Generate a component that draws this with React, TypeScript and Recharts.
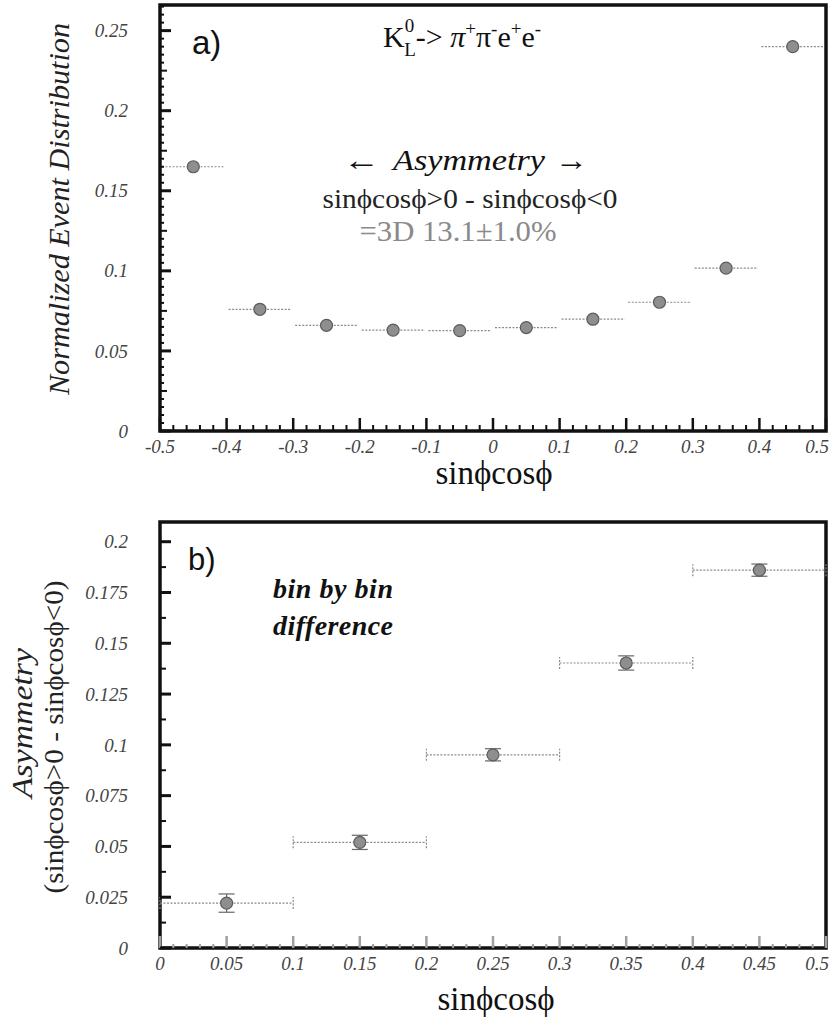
import React from 'react';
import { ScatterChart, Scatter, XAxis, YAxis, ErrorBar, ReferenceArea } from 'recharts';

// panel a) normalized event distribution in bins of sinϕcosϕ
const binsA = [-0.45, -0.35, -0.25, -0.15, -0.05, 0.05, 0.15, 0.25, 0.35, 0.45];
const distA = [0.165, 0.076, 0.066, 0.063, 0.0627, 0.0646, 0.0698, 0.0804, 0.1017, 0.24];
const halfBinA = 0.047;

// panel b) bin by bin asymmetry
const binsB = [0.05, 0.15, 0.25, 0.35, 0.45];
const asymB = [0.0221, 0.052, 0.0951, 0.1403, 0.186];
const asymErrB = [0.0045, 0.0035, 0.003, 0.0035, 0.003];
const halfBinB = 0.05;

const xMajorA = [-0.5, -0.4, -0.3, -0.2, -0.1, 0, 0.1, 0.2, 0.3, 0.4, 0.5];
const yMajorA = [0, 0.05, 0.1, 0.15, 0.2, 0.25];
const xMajorB = [0, 0.05, 0.1, 0.15, 0.2, 0.25, 0.3, 0.35, 0.4, 0.45, 0.5];
const yMajorB = [0, 0.025, 0.05, 0.075, 0.1, 0.125, 0.15, 0.175, 0.2];

const yMaxA = 0.266;
const yMaxB = 0.2097;

const SERIF = 'Liberation Serif';
const SANS = 'Liberation Sans';

// major ticks plus evenly spaced minor ticks between them
function withMinors(majors: number[], parts: number, top: number) {
  const out: number[] = [];
  const step = (majors[1] - majors[0]) / parts;
  for (let i = 0; i < majors.length; i++) {
    for (let k = 0; k < parts; k++) {
      const v = majors[i] + k * step;
      if (v > top + 1e-9) break;
      out.push(Number(v.toFixed(5)));
    }
  }
  return out;
}

const isMajor = (majors: number[], v: number) => majors.some((m) => Math.abs(m - v) < 1e-7);
const fmt = (v: number) => (Math.abs(v) < 1e-9 ? '0' : String(Number(v.toFixed(4))));

function BottomTick(props: any) {
  const { x, y, payload, majors, margin, major, minor, color } = props;
  const v = payload.value;
  const big = isMajor(majors, v);
  const last = Math.abs(v - majors[majors.length - 1]) < 1e-7;
  const axisY = y - margin;
  return (
    <g>
      <line x1={x} x2={x} y1={axisY} y2={axisY - (big ? major : minor)} stroke={color} strokeWidth={big ? 2.5 : 2} />
      {big && (
        <text
          x={last ? x + 3 : x}
          y={y}
          dy="0.72em"
          textAnchor={last ? 'end' : 'middle'}
          fontFamily={SERIF}
          fontStyle="italic"
          fontSize={19}
          fill="#444"
        >
          {fmt(v)}
        </text>
      )}
    </g>
  );
}

function LeftTick(props: any) {
  const { x, y, payload, majors, mids, margin, major, mid, minor } = props;
  const v = payload.value;
  const big = isMajor(majors, v);
  const half = mids && isMajor(mids, v);
  const axisX = x + margin;
  const len = big ? major : half ? mid : minor;
  return (
    <g>
      <line x1={axisX} x2={axisX + len} y1={y} y2={y} stroke="#111" strokeWidth={big ? 3 : 2} />
      {big && (
        <text x={x} y={y} dy="0.35em" textAnchor="end" fontFamily={SERIF} fontStyle="italic" fontSize={19} fill="#444">
          {fmt(v)}
        </text>
      )}
    </g>
  );
}

const Marker = (p: any) => <circle cx={p.cx} cy={p.cy} r={6} fill="#8e8e8e" stroke="#5c5c5c" strokeWidth={1.2} />;

export default function App() {
  const dataA = binsA.map((x, i) => ({ x, y: distA[i], xerr: halfBinA }));
  const dataB = binsB.map((x, i) => ({ x, y: asymB[i], xerr: halfBinB, yerr: asymErrB[i] }));
  const midsA = yMajorA.map((m) => Number((m + 0.025).toFixed(4)));

  return (
    <div style={{ position: 'absolute', left: 0, top: 0, width: 831, height: 1027, background: '#fff' }}>
      <div style={{ position: 'absolute', left: 0, top: 0 }}>
        <ScatterChart width={831} height={500} margin={{ top: 5, right: 5, bottom: 0, left: 0 }}>
          <XAxis
            type="number"
            dataKey="x"
            domain={[-0.5, 0.5]}
            ticks={withMinors(xMajorA, 5, 0.5)}
            interval={0}
            allowDataOverflow
            height={69}
            tickSize={0}
            tickMargin={8}
            axisLine={false}
            tick={(p: any) => <BottomTick {...p} majors={xMajorA} margin={8} major={13} minor={6} color="#111" />}
          />
          <YAxis
            type="number"
            dataKey="y"
            domain={[0, yMaxA]}
            ticks={withMinors(yMajorA, 10, yMaxA)}
            interval={0}
            allowDataOverflow
            width={160}
            tickSize={0}
            tickMargin={32}
            axisLine={false}
            tick={(p: any) => (
              <LeftTick {...p} majors={yMajorA} mids={midsA} margin={32} major={11} mid={7} minor={4} />
            )}
          />
          <ReferenceArea x1={-0.5} x2={0.5} y1={0} y2={yMaxA} fill="none" stroke="#111" strokeWidth={3.5} ifOverflow="visible" />
          <Scatter data={dataA} shape={Marker} isAnimationActive={false}>
            <ErrorBar dataKey="xerr" direction="x" width={0} stroke="#8a8a8a" strokeWidth={1.2} strokeDasharray="2 1.5" />
          </Scatter>
        </ScatterChart>
      </div>

      <div style={{ position: 'absolute', left: 0, top: 500 }}>
        <ScatterChart width={831} height={527} margin={{ top: 22, right: 5, bottom: 0, left: 0 }}>
          <XAxis
            type="number"
            dataKey="x"
            domain={[0, 0.5]}
            ticks={withMinors(xMajorB, 5, 0.5)}
            interval={0}
            allowDataOverflow
            height={79}
            tickSize={0}
            tickMargin={8}
            axisLine={false}
            tick={(p: any) => <BottomTick {...p} majors={xMajorB} margin={8} major={12} minor={4} color="#a0a0a0" />}
          />
          <YAxis
            type="number"
            dataKey="y"
            domain={[0, yMaxB]}
            ticks={withMinors(yMajorB, 2, yMaxB)}
            interval={0}
            allowDataOverflow
            width={160}
            tickSize={0}
            tickMargin={32}
            axisLine={false}
            tick={(p: any) => <LeftTick {...p} majors={yMajorB} margin={32} major={11} minor={6} />}
          />
          <ReferenceArea x1={0} x2={0.5} y1={0} y2={yMaxB} fill="none" stroke="#111" strokeWidth={3.5} ifOverflow="visible" />
          <Scatter data={dataB} shape={Marker} isAnimationActive={false}>
            <ErrorBar dataKey="xerr" direction="x" width={6} stroke="#8a8a8a" strokeWidth={1.2} strokeDasharray="2 1.5" />
            <ErrorBar dataKey="yerr" direction="y" width={8} stroke="#666" strokeWidth={1.2} />
          </Scatter>
        </ScatterChart>
      </div>

      <svg width={831} height={1027} style={{ position: 'absolute', left: 0, top: 0, pointerEvents: 'none' }}>
        {/* panel a) annotations */}
        <text x={192} y={54} fontFamily={SANS} fontSize={33} fill="#111">a)</text>
        <text x={383} y={47} fontFamily={SERIF} fontSize={30} fill="#111">
          K
          <tspan dy={-15} fontSize={19}>0</tspan>
          <tspan dx={-10} dy={24} fontSize={19}>L</tspan>
          <tspan dy={-9}>-&gt; </tspan>
          <tspan fontStyle="italic">π</tspan>
          <tspan dy={-12} fontSize={19}>+</tspan>
          <tspan dy={12}>π</tspan>
          <tspan dy={-12} fontSize={19}>-</tspan>
          <tspan dy={12}>e</tspan>
          <tspan dy={-12} fontSize={19}>+</tspan>
          <tspan dy={12}>e</tspan>
          <tspan dy={-12} fontSize={19}>-</tspan>
        </text>
        <text x={343} y={170} fontFamily={SERIF} fontSize={30} fill="#111" textLength={37} lengthAdjust="spacingAndGlyphs">
          ←
        </text>
        <text
          x={393}
          y={170}
          fontFamily={SERIF}
          fontStyle="italic"
          fontSize={30}
          fill="#111"
          textLength={152}
          lengthAdjust="spacingAndGlyphs"
        >
          Asymmetry
        </text>
        <text x={555} y={170} fontFamily={SERIF} fontSize={30} fill="#111" textLength={33} lengthAdjust="spacingAndGlyphs">
          →
        </text>
        <text
          x={470}
          y={208}
          fontFamily={SERIF}
          fontSize={28}
          fill="#222"
          textAnchor="middle"
          textLength={295}
          lengthAdjust="spacingAndGlyphs"
        >
          sinϕcosϕ&gt;0 - sinϕcosϕ&lt;0
        </text>
        <text
          x={458}
          y={241}
          fontFamily={SERIF}
          fontSize={29}
          fill="#8a8a8a"
          textAnchor="middle"
          textLength={197}
          lengthAdjust="spacingAndGlyphs"
        >
          =3D 13.1±1.0%
        </text>
        <text
          x={69}
          y={209}
          transform="rotate(-90 69 209)"
          fontFamily={SERIF}
          fontStyle="italic"
          fontSize={30}
          fill="#222"
          textAnchor="middle"
          textLength={372}
          lengthAdjust="spacingAndGlyphs"
        >
          Normalized Event Distribution
        </text>
        <text x={494} y={484} fontFamily={SERIF} fontSize={33} fill="#111" textAnchor="middle">sinϕcosϕ</text>

        {/* panel b) annotations */}
        <text x={188} y={570} fontFamily={SANS} fontSize={31} fill="#111">b)</text>
        <text x={273} y={598} fontFamily={SERIF} fontStyle="italic" fontWeight="bold" fontSize={28} fill="#111" textLength={120}>
          bin by bin
        </text>
        <text x={273} y={635} fontFamily={SERIF} fontStyle="italic" fontWeight="bold" fontSize={28} fill="#111" textLength={120}>
          difference
        </text>
        <text
          x={32}
          y={723}
          transform="rotate(-90 32 723)"
          fontFamily={SERIF}
          fontStyle="italic"
          fontSize={30}
          fill="#222"
          textAnchor="middle"
          textLength={150}
          lengthAdjust="spacingAndGlyphs"
        >
          Asymmetry
        </text>
        <text
          x={63}
          y={737}
          transform="rotate(-90 63 737)"
          fontFamily={SERIF}
          fontSize={28}
          fill="#222"
          textAnchor="middle"
          textLength={313}
          lengthAdjust="spacingAndGlyphs"
        >
          (sinϕcosϕ&gt;0 - sinϕcosϕ&lt;0)
        </text>
        <text x={496} y={1010} fontFamily={SERIF} fontSize={33} fill="#111" textAnchor="middle">sinϕcosϕ</text>
      </svg>
    </div>
  );
}
